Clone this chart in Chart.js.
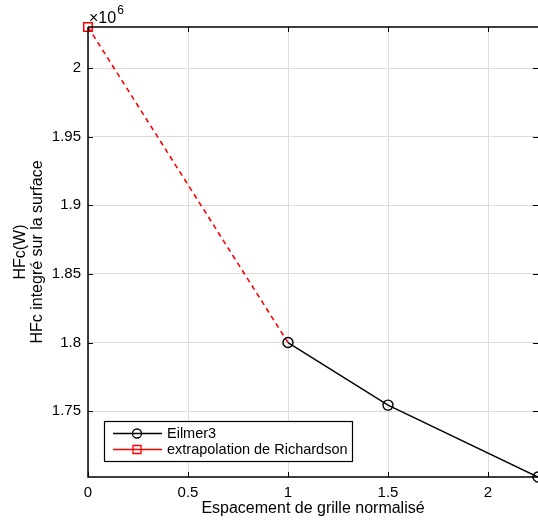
<!DOCTYPE html>
<html>
<head>
<meta charset="utf-8">
<script src="https://cdn.jsdelivr.net/npm/chart.js@4/dist/chart.umd.min.js"></script>
<style>
  html, body { margin: 0; padding: 0; background: #fff; overflow: hidden; }
  #wrap { width: 538px; height: 523px; }
  canvas { display: block; }
</style>
</head>
<body>
<div id="wrap"><canvas id="c" width="538" height="523"></canvas></div>
<script>
// grid spacing (normalised) and integrated heat flux (W)
const eilmerX = [1, 1.5, 2.25];
const eilmerY = [1.8e6, 1.7544e6, 1.702e6];
const richX = [0, 1];
const richY = [2.03e6, 1.8e6];

const xTicks = [0, 0.5, 1, 1.5, 2];
const yTicks = [1.75e6, 1.8e6, 1.85e6, 1.9e6, 1.95e6, 2.0e6];

const FONT = 'Liberation Sans, Arial, Helvetica, sans-serif';

// inward tick marks, box, x10^6 label and legend box (matlab look)
const matlabAxes = {
    id: 'matlabAxes',
    afterDraw(chart) {
        const { ctx, chartArea: a, scales: { x, y } } = chart;
        ctx.save();
        ctx.strokeStyle = '#000';
        ctx.lineWidth = 1.5;
        ctx.beginPath();
        ctx.moveTo(a.left, a.top); ctx.lineTo(a.right, a.top);
        ctx.moveTo(a.left, a.top); ctx.lineTo(a.left, a.bottom);
        ctx.lineTo(a.right, a.bottom);
        ctx.stroke();

        ctx.lineWidth = 1;
        ctx.beginPath();
        xTicks.forEach(v => {
            const px = Math.round(x.getPixelForValue(v)) + 0.5;
            ctx.moveTo(px, a.bottom); ctx.lineTo(px, a.bottom - 5);
            ctx.moveTo(px, a.top); ctx.lineTo(px, a.top + 5);
        });
        yTicks.forEach(v => {
            const py = Math.round(y.getPixelForValue(v)) + 0.5;
            ctx.moveTo(a.left, py); ctx.lineTo(a.left + 5, py);
            ctx.moveTo(a.right, py); ctx.lineTo(a.right - 5, py);
        });
        ctx.stroke();

        // exponent
        ctx.fillStyle = '#000';
        ctx.textBaseline = 'alphabetic';
        ctx.textAlign = 'left';
        ctx.font = '16px ' + FONT;
        ctx.fillText('\u00d710', a.left + 1, a.top - 4);
        const w = ctx.measureText('\u00d710').width;
        ctx.font = '12px ' + FONT;
        ctx.fillText('6', a.left + 2 + w, a.top - 13);

        // legend
        const lx = 104, ly = 421, lw = 248, lh = 40;
        ctx.fillStyle = '#fff';
        ctx.fillRect(lx, ly, lw, lh);
        ctx.strokeStyle = '#000';
        ctx.lineWidth = 1.2;
        ctx.strokeRect(lx + 0.5, ly + 0.5, lw, lh);
        const items = [
            { label: 'Eilmer3', color: '#000', marker: 'circle' },
            { label: 'extrapolation de Richardson', color: '#ff0000', marker: 'rect' }
        ];
        items.forEach((it, i) => {
            const cy = ly + 12.5 + i * 16;
            ctx.strokeStyle = it.color;
            ctx.lineWidth = 1.3;
            ctx.beginPath();
            ctx.moveTo(lx + 9, cy); ctx.lineTo(lx + 58, cy);
            ctx.stroke();
            ctx.beginPath();
            if (it.marker === 'circle') ctx.arc(lx + 33, cy, 4.5, 0, Math.PI * 2);
            else ctx.rect(lx + 29, cy - 4, 8, 8);
            ctx.stroke();
            ctx.fillStyle = '#000';
            ctx.font = '14.5px ' + FONT;
            ctx.textBaseline = 'middle';
            ctx.fillText(it.label, lx + 63, cy);
        });
        ctx.restore();
    }
};

new Chart(document.getElementById('c'), {
    type: 'scatter',
    data: {
        datasets: [
            {
                label: 'Eilmer3',
                data: eilmerX.map((v, i) => ({ x: v, y: eilmerY[i] })),
                showLine: true,
                borderColor: '#000',
                borderWidth: 1.4,
                pointStyle: 'circle',
                pointRadius: 5,
                pointBackgroundColor: 'rgba(0,0,0,0)',
                pointBorderColor: '#000',
                pointBorderWidth: 1.4,
                clip: false,
                order: 1
            },
            {
                label: 'extrapolation de Richardson',
                data: richX.map((v, i) => ({ x: v, y: richY[i] })),
                showLine: true,
                borderColor: '#ff0000',
                borderWidth: 1.6,
                borderDash: [5, 4],
                pointStyle: 'rect',
                pointRadius: [6, 0],
                pointBackgroundColor: 'rgba(0,0,0,0)',
                pointBorderColor: '#ff0000',
                pointBorderWidth: 1.5,
                clip: false,
                order: 2
            }
        ]
    },
    options: {
        responsive: false,
        animation: false,
        layout: { autoPadding: false, padding: { top: 27, right: 0, left: 0, bottom: 0 } },
        plugins: {
            legend: { display: false },
            tooltip: { enabled: false }
        },
        scales: {
            x: {
                type: 'linear',
                min: 0,
                max: 2.25,
                afterFit: s => { s.height = 46; s.paddingLeft = 0; s.paddingRight = 0; },
                afterBuildTicks: s => { s.ticks = xTicks.map(v => ({ value: v })); },
                grid: { color: '#dcdcdc', lineWidth: 1, drawTicks: false },
                border: { display: false },
                ticks: {
                    color: '#000',
                    padding: 7,
                    maxRotation: 0,
                    font: { family: FONT, size: 15 },
                    callback: v => String(v)
                },
                title: {
                    display: true,
                    text: 'Espacement de grille normalisé',
                    color: '#000',
                    font: { family: FONT, size: 16 },
                    padding: { top: 0, bottom: 5 }
                }
            },
            y: {
                type: 'linear',
                min: 1.702e6,
                max: 2.03e6,
                afterFit: s => { s.width = 88; s.paddingTop = 0; s.paddingBottom = 0; },
                afterBuildTicks: s => { s.ticks = yTicks.map(v => ({ value: v })); },
                grid: { color: '#dcdcdc', lineWidth: 1, drawTicks: false },
                border: { display: false },
                ticks: {
                    color: '#000',
                    padding: 7,
                    font: { family: FONT, size: 15 },
                    callback: v => String(Math.round(v / 1e4) / 100)
                },
                title: {
                    display: true,
                    text: ['HFc(W)', 'HFc integré sur la surface'],
                    color: '#000',
                    font: { family: FONT, size: 16, lineHeight: 1.05 },
                    padding: { top: 12, bottom: 0 }
                }
            }
        }
    },
    plugins: [matlabAxes]
});
</script>
</body>
</html>
